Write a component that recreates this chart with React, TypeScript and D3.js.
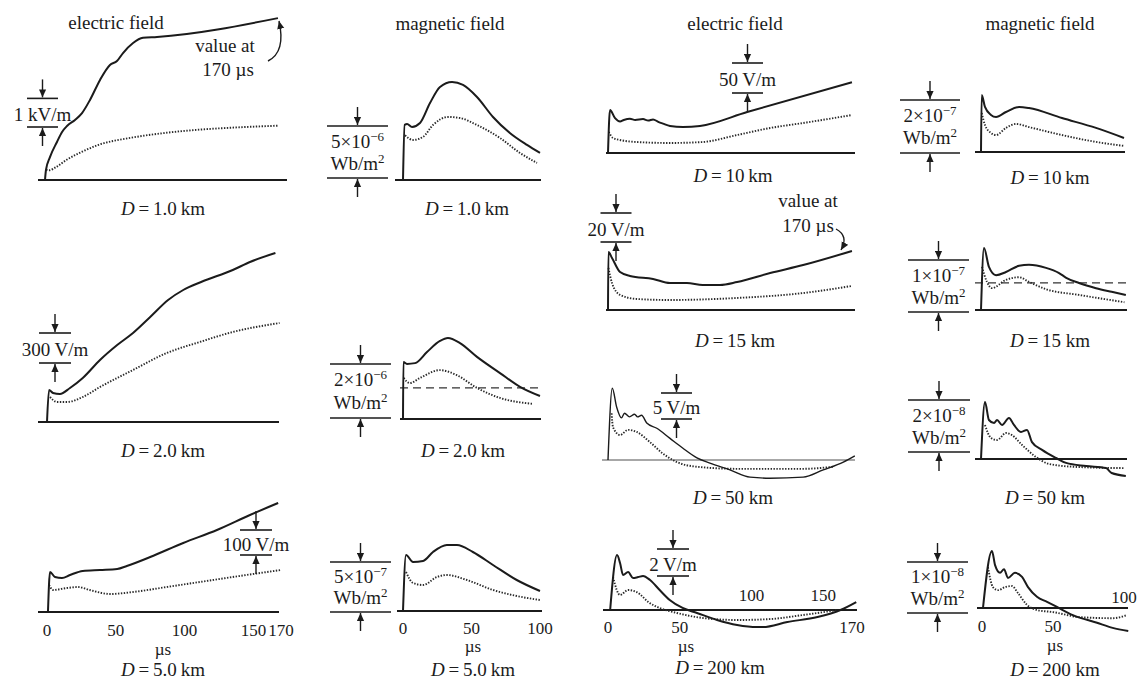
import React from 'react';
import * as d3 from 'd3';

type Pt = [number, number]; // [time in µs, field value in the panel's unit]

// Electric field, D = 1.0 km (kV/m)
const e1Solid: Pt[] = [[0, 0], [0.7, 0.35], [3.6, 0.8], [8.7, 1.33], [12.4, 1.68], [16, 1.89], [21.8, 2.1], [26.9, 2.34], [32.7, 2.8], [40, 3.5], [47.2, 4.02], [52.3, 4.16], [56.7, 4.44], [64, 4.79], [71.2, 4.97], [81.4, 5.0], [169.3, 5.66]];
const e1Dotted: Pt[] = [[0.8, 0.36], [3, 0.34], [8, 0.45], [15.5, 0.7], [27, 0.99], [39, 1.23], [63, 1.48], [88, 1.65], [112, 1.76], [136, 1.83], [170, 1.9]];
// Electric field, D = 2.0 km (V/m)
const e2Solid: Pt[] = [[0, 0], [1.5, 320], [4.4, 290], [9.4, 280], [16.7, 340], [26, 440], [38.5, 620], [51, 770], [62.5, 890], [75, 1050], [88, 1220], [99, 1320], [112, 1400], [135, 1520], [147.5, 1600], [166, 1690]];
const e2Dotted: Pt[] = [[2.2, 250], [7.3, 200], [14.5, 200], [26, 250], [38.5, 350], [62.5, 520], [87, 690], [111, 800], [135, 900], [169, 990]];
// Electric field, D = 5.0 km (V/m)
const e5Solid: Pt[] = [[0.7, 0], [2.2, 160], [5.8, 140], [10.9, 136], [16.7, 148], [26, 164], [38.5, 168], [51, 172], [58, 184], [75, 220], [99, 276], [123.5, 328], [147.5, 388], [168, 436]];
const e5Dotted: Pt[] = [[1.5, 108], [4.4, 88], [14.5, 96], [22.5, 100], [31, 88], [46, 72], [62.5, 80], [87, 100], [111, 120], [135, 140], [170, 168]];

// Magnetic field, D = 1.0 km (1e-6 Wb/m²)
const b1Solid: Pt[] = [[0, 0], [1.2, 5.3], [3, 5.38], [6.6, 5.1], [12.4, 5.48], [19.7, 7.4], [27, 8.95], [35.8, 9.43], [43.8, 9.14], [54, 7.98], [65.7, 6.06], [78, 4.52], [90.5, 3.37], [100, 2.6]];
const b1Dotted: Pt[] = [[1.5, 4.3], [7.3, 3.85], [14.6, 4.14], [21.9, 5.29], [32.8, 6.06], [41.6, 5.96], [54, 5.29], [70.8, 4.04], [85.4, 2.6], [97.8, 1.64]];
// Magnetic field, D = 2.0 km (1e-6 Wb/m²)
const b2Solid: Pt[] = [[0, 0], [0.3, 2.11], [2.9, 2.04], [8.8, 2.07], [17.5, 2.48], [27, 2.89], [32.8, 3.0], [41.6, 2.81], [54, 2.3], [70.8, 1.7], [85.4, 1.19], [100, 0.85]];
const b2Dotted: Pt[] = [[0.5, 1.52], [5, 1.33], [12.4, 1.52], [27, 1.81], [39, 1.63], [54, 1.15], [70.8, 0.78], [95, 0.56]];
const b2Dashed = 1.15;
// Magnetic field, D = 5.0 km (1e-7 Wb/m²)
const b5Solid: Pt[] = [[0, 0], [2.2, 5.6], [7.3, 4.9], [14.6, 5.0], [21.9, 5.9], [32, 6.6], [39.4, 6.6], [51, 5.9], [65.7, 4.6], [83, 3.1], [100, 2.0]];
const b5Dotted: Pt[] = [[2.2, 3.9], [7.3, 2.8], [14.6, 2.6], [24.8, 3.4], [32, 3.6], [46.7, 3.1], [65.7, 2.1], [83, 1.5], [100, 1.1]];

// Electric field, D = 10 km (V/m)
const e10Solid: Pt[] = [[0, 0], [1.4, 71.7], [4.9, 58], [8.4, 52.5], [11, 55], [15.3, 57], [19, 55], [24.4, 56.5], [28, 54], [31.4, 56], [35, 52], [38.3, 49], [43.2, 45], [52.3, 43.3], [64.1, 45], [97, 68.3], [170, 118]];
const e10Dotted: Pt[] = [[0.5, 35], [3.5, 25], [8.4, 21.7], [20, 18.3], [43, 16.7], [66, 18.3], [90, 30], [113, 41.7], [136, 50], [170, 63.3]];
// Electric field, D = 15 km (V/m)
const e15Solid: Pt[] = [[0, 0], [0.3, 40], [2.8, 35.9], [8.4, 26.2], [15.3, 23.5], [31.4, 21.4], [43.2, 18.6], [55, 18.6], [66, 17.3], [78, 17.3], [90, 19.3], [113, 25.5], [136, 31], [170, 40.7]];
const e15Dotted: Pt[] = [[0.3, 29], [2.8, 18.6], [8.4, 10.4], [20, 7.6], [43, 6.9], [90, 8.3], [136, 11.7], [170, 16.6]];
// Electric field, D = 50 km (V/m)
const e50Solid: Pt[] = [[0, 0], [3, 13.8], [6, 10.2], [9.4, 8.1], [11.5, 9.0], [15, 8.3], [18.5, 8.8], [20.6, 8.3], [23.4, 8.6], [27, 7.1], [34, 6.1], [43, 4.2], [52, 2.3], [62, 0.4], [71, -0.6], [85, -1.9], [99, -3.3], [113, -3.5], [136, -3.3], [150, -1.9], [164, -0.4], [172, 0.8]];
const e50Dotted: Pt[] = [[2.5, 9.0], [3.5, 6.3], [8.4, 4.8], [14, 5.8], [20, 5.4], [29, 3.5], [38, 1.3], [48, -0.4], [62, -1.3], [90, -1.7], [136, -1.7], [157, -1.3]];
// Electric field, D = 200 km (V/m)
const e200Solid: Pt[] = [[1.5, 0], [6.3, 4.07], [8.4, 3.48], [10.5, 2.59], [14, 2.81], [17.4, 2.37], [21, 2.44], [24.4, 2.52], [29.3, 2.22], [36, 1.48], [43, 0.74], [52, 0.15], [62, -0.22], [76, -0.74], [90, -1.11], [104, -1.26], [108, -1.26], [125, -0.89], [146, -0.52], [162, 0], [173, 0.59]];
const e200Dotted: Pt[] = [[3.5, 2.44], [8.4, 1.11], [14, 1.48], [20, 1.33], [29, 0.52], [36, 0.15], [48, -0.22], [66, -0.59], [90, -0.74], [113, -0.67], [136, -0.37], [160, 0]];

// Magnetic field, D = 10 km (1e-7 Wb/m²)
const b10Solid: Pt[] = [[0, 0], [0.5, 2.15], [2.8, 1.7], [7, 1.4], [10.6, 1.32], [17.6, 1.51], [26.8, 1.7], [33.8, 1.66], [57, 1.28], [81, 0.91], [100.7, 0.53]];
const b10Dotted: Pt[] = [[0.5, 1.47], [2.8, 1.02], [7, 0.72], [10.6, 0.64], [17.6, 0.91], [24.6, 1.06], [33.8, 0.94], [57, 0.64], [81, 0.38], [100.7, 0.23]];
// Magnetic field, D = 15 km (1e-8 Wb/m²)
const b15Solid: Pt[] = [[0, 0], [2.1, 11.9], [5.6, 8.3], [10.6, 6.7], [17.6, 7.3], [26.8, 8.5], [33.8, 8.7], [45.8, 8.1], [55, 7.1], [60, 6.2], [69, 5.2], [81, 4.2], [92, 3.5], [102, 2.9]];
const b15Dotted: Pt[] = [[0.7, 8.3], [4.2, 5.4], [7.7, 4.2], [17.6, 5.8], [26.8, 6.3], [33.8, 5.4], [45.8, 4.0], [69, 2.9], [101, 1.5]];
const b15Dashed = 5.2;
// Magnetic field, D = 50 km (1e-8 Wb/m²)
const b50Solid: Pt[] = [[0, 0], [2.8, 2.19], [5.6, 1.5], [9.2, 1.38], [11.3, 1.5], [14.8, 1.31], [19.7, 1.58], [23.2, 1.31], [28.2, 1.04], [32.4, 1.12], [35.9, 0.65], [43, 0.35], [52.8, 0.04], [59.9, -0.15], [74, -0.27], [88, -0.35], [92, -0.54], [102, -0.65]];
const b50Dotted: Pt[] = [[2.8, 1.31], [7, 0.81], [11.3, 0.73], [17.6, 1.0], [21.8, 0.92], [28.9, 0.54], [38.7, 0.08], [47.9, -0.19], [69, -0.31], [100.7, -0.35]];
// Magnetic field, D = 200 km (1e-8 Wb/m²)
const b200Solid: Pt[] = [[0.7, 0], [7, 1.12], [9.2, 0.84], [12.7, 0.69], [15.5, 0.76], [18.3, 0.59], [23.2, 0.69], [28.2, 0.61], [32.4, 0.41], [38.7, 0.22], [45.8, 0.12], [52.8, 0.02], [64, -0.14], [81, -0.29], [92, -0.39], [103, -0.45]];
const b200Dotted: Pt[] = [[4.2, 0.8], [7.7, 0.41], [11.3, 0.35], [16.2, 0.41], [21.1, 0.43], [25.4, 0.29], [31.7, 0.06], [38.7, -0.04], [50, -0.08], [69, -0.18], [92, -0.2], [102, -0.14]];

const ticksLong = [0, 50, 100, 150, 170];
const ticksShort = [0, 50, 100];

const FONT = '"Liberation Serif", "Times New Roman", serif';
const INK = '#1b1b1b';

type Bar = { cx: number; w: number; bottom: number; label: string; exp?: string };
type Ticks = { below: number[]; above?: number[]; yBelow: number; yAbove?: number; unit: [number, number] };
type Panel = {
  id: string; x0: number; kx: number; tEnd: number; base: number; bl: [number, number];
  unit: number; unitPx: number; solid: Pt[]; dotted: Pt[]; dashed?: number;
  bar: Bar; caption: [number, number, string]; faint?: boolean; ticks?: Ticks;
};

const panels: Panel[] = [
  { id: 'e1', x0: 45, kx: 1.376, tEnd: 170, base: 180, bl: [38, 287], unit: 1, unitPx: 28.6, solid: e1Solid, dotted: e1Dotted,
    bar: { cx: 42.5, w: 31, bottom: 127, label: '1 kV/m' }, caption: [163, 208, '1.0\u2009km'] },
  { id: 'e2', x0: 47, kx: 1.376, tEnd: 170, base: 422, bl: [38, 279], unit: 300, unitPx: 30, solid: e2Solid, dotted: e2Dotted,
    bar: { cx: 55, w: 32, bottom: 363, label: '300 V/m' }, caption: [163, 450, '2.0\u2009km'] },
  { id: 'e5', x0: 47, kx: 1.376, tEnd: 170, base: 612, bl: [38, 279], unit: 100, unitPx: 25, solid: e5Solid, dotted: e5Dotted,
    bar: { cx: 256, w: 32, bottom: 555, label: '100 V/m' }, caption: [163, 669, '5.0\u2009km'],
    ticks: { below: ticksLong, yBelow: 630, unit: [163, 649] } },
  { id: 'b1', x0: 403, kx: 1.37, tEnd: 100, base: 180, bl: [395, 541], unit: 5, unitPx: 52, solid: b1Solid, dotted: b1Dotted,
    bar: { cx: 357.5, w: 61, bottom: 178, label: '5\u00d710', exp: '\u22126' }, caption: [467, 208, '1.0\u2009km'] },
  { id: 'b2', x0: 403, kx: 1.37, tEnd: 100, base: 419, bl: [400, 541], unit: 2, unitPx: 54, solid: b2Solid, dotted: b2Dotted, dashed: b2Dashed,
    bar: { cx: 360.5, w: 61, bottom: 418, label: '2\u00d710', exp: '\u22126' }, caption: [463, 450, '2.0\u2009km'] },
  { id: 'b5', x0: 403, kx: 1.37, tEnd: 100, base: 611, bl: [397, 542], unit: 5, unitPx: 50, solid: b5Solid, dotted: b5Dotted,
    bar: { cx: 360.5, w: 61, bottom: 612, label: '5\u00d710', exp: '\u22127' }, caption: [473, 669, '5.0\u2009km'],
    ticks: { below: ticksShort, yBelow: 628, unit: [473, 646] } },
  { id: 'e10', x0: 608, kx: 1.435, tEnd: 170, base: 153, bl: [606, 855], unit: 50, unitPx: 30, solid: e10Solid, dotted: e10Dotted,
    bar: { cx: 747.5, w: 31, bottom: 93, label: '50 V/m' }, caption: [733, 175, '10\u2009km'] },
  { id: 'e15', x0: 608, kx: 1.435, tEnd: 170, base: 310, bl: [606, 855], unit: 20, unitPx: 29, solid: e15Solid, dotted: e15Dotted,
    bar: { cx: 616, w: 31, bottom: 242, label: '20 V/m' }, caption: [735, 340, '15 km'] },
  { id: 'e50', x0: 608, kx: 1.435, tEnd: 170, base: 460, bl: [602, 855], unit: 5, unitPx: 26, solid: e50Solid, dotted: e50Dotted, faint: true,
    bar: { cx: 676.5, w: 31, bottom: 419, label: '5 V/m' }, caption: [733, 497, '50 km'] },
  { id: 'e200', x0: 608, kx: 1.435, tEnd: 170, base: 610, bl: [603, 857], unit: 2, unitPx: 27, solid: e200Solid, dotted: e200Dotted,
    bar: { cx: 673, w: 32, bottom: 576, label: '2 V/m' }, caption: [720, 667, '200 km'],
    ticks: { below: [0, 50, 170], above: [100, 150], yBelow: 627, yAbove: 595, unit: [686, 646] } },
  { id: 'b10', x0: 981, kx: 1.42, tEnd: 100, base: 152, bl: [975, 1125], unit: 2, unitPx: 53, solid: b10Solid, dotted: b10Dotted,
    bar: { cx: 930, w: 60, bottom: 153, label: '2\u00d710', exp: '\u22127' }, caption: [1050, 177, '10\u2009km'] },
  { id: 'b15', x0: 981, kx: 1.42, tEnd: 100, base: 310, bl: [975, 1127], unit: 10, unitPx: 52, solid: b15Solid, dotted: b15Dotted, dashed: b15Dashed,
    bar: { cx: 938.5, w: 61, bottom: 312, label: '1\u00d710', exp: '\u22127' }, caption: [1050, 340, '15 km'] },
  { id: 'b50', x0: 981, kx: 1.42, tEnd: 100, base: 459, bl: [975, 1127], unit: 2, unitPx: 52, solid: b50Solid, dotted: b50Dotted,
    bar: { cx: 939, w: 62, bottom: 452, label: '2\u00d710', exp: '\u22128' }, caption: [1045, 497, '50 km'] },
  { id: 'b200', x0: 982, kx: 1.42, tEnd: 100, base: 608, bl: [977, 1128], unit: 1, unitPx: 51, solid: b200Solid, dotted: b200Dotted,
    bar: { cx: 937.5, w: 61, bottom: 613, label: '1\u00d710', exp: '\u22128' }, caption: [1055, 669, '200 km'],
    ticks: { below: [0, 50], above: [100], yBelow: 626, yAbove: 597, unit: [1055, 645] } },
];

const headers: [string, number, number][] = [
  ['electric field', 116, 22], ['magnetic field', 450, 23], ['electric field', 735, 23], ['magnetic field', 1040, 23],
];

function Arrow({ x, y1, y2 }: { x: number; y1: number; y2: number }) {
  return <line x1={x} x2={x} y1={y1} y2={y2} stroke={INK} strokeWidth={1.4} markerEnd="url(#head)" />;
}

function PanelView({ p }: { p: Panel }) {
  const x = d3.scaleLinear().domain([0, p.tEnd]).range([p.x0, p.x0 + p.tEnd * p.kx]);
  const y = d3.scaleLinear().domain([0, p.unit]).range([p.base, p.base - p.unitPx]);
  const line = d3.line<Pt>().x(d => x(d[0])).y(d => y(d[1])).curve(d3.curveMonotoneX);
  const { bar } = p;
  const top = bar.bottom - (y(0) - y(p.unit));
  const h = bar.bottom - top;
  const bx0 = bar.cx - bar.w / 2, bx1 = bar.cx + bar.w / 2;
  const curveW = p.faint ? 1.4 : 2;
  return (
    <g>
      <line x1={p.bl[0]} x2={p.bl[1]} y1={p.base} y2={p.base} stroke={p.faint ? '#8a8a8a' : INK} strokeWidth={p.faint ? 1.3 : 2} />
      {p.dashed !== undefined && (
        <line x1={p.bl[0]} x2={p.bl[1]} y1={y(p.dashed)} y2={y(p.dashed)} stroke="#333" strokeWidth={1.3} strokeDasharray="8 5" />
      )}
      <path d={line(p.dotted) ?? ''} fill="none" stroke="#2a2a2a" strokeWidth={1.9} strokeDasharray="1.4 1.5" />
      <path d={line(p.solid) ?? ''} fill="none" stroke={INK} strokeWidth={curveW} strokeLinejoin="round" />
      {/* scale bar */}
      <line x1={bx0} x2={bx1} y1={top} y2={top} stroke={INK} strokeWidth={1.6} />
      <line x1={bx0} x2={bx1} y1={bar.bottom} y2={bar.bottom} stroke={INK} strokeWidth={1.6} />
      <Arrow x={bar.cx} y1={top - 19} y2={top - 1} />
      <Arrow x={bar.cx} y1={bar.bottom + 19} y2={bar.bottom + 1} />
      {bar.exp ? (
        <g>
          <text x={bar.cx} y={top + 0.29 * h} dy="0.35em" textAnchor="middle" fontSize={19}>
            {bar.label}<tspan dy={-7} fontSize={13}>{bar.exp}</tspan>
          </text>
          <text x={bar.cx} y={top + 0.71 * h} dy="0.35em" textAnchor="middle" fontSize={19}>
            Wb/m<tspan dy={-7} fontSize={13}>2</tspan>
          </text>
        </g>
      ) : (
        <text x={bar.cx} y={(top + bar.bottom) / 2 + 1.5} dy="0.35em" textAnchor="middle" fontSize={19}>{bar.label}</text>
      )}
      <text x={p.caption[0]} y={p.caption[1]} dy="0.35em" textAnchor="middle" fontSize={19}>
        <tspan fontStyle="italic">D</tspan>{'\u2009=\u2009' + p.caption[2]}
      </text>
      {p.ticks && (
        <g fontSize={17} textAnchor="middle">
          {p.ticks.below.map(t => <text key={'b' + t} x={x(t)} y={p.ticks!.yBelow} dy="0.35em">{t}</text>)}
          {(p.ticks.above ?? []).map(t => <text key={'a' + t} x={x(t)} y={p.ticks!.yAbove} dy="0.35em">{t}</text>)}
          <text x={p.ticks.unit[0]} y={p.ticks.unit[1]} dy="0.35em">µs</text>
        </g>
      )}
    </g>
  );
}

export default function App() {
  return (
    <svg width={1141} height={681} style={{ position: 'absolute', left: 0, top: 0, background: '#fff' }}
      fontFamily={FONT} fill={INK}>
      <defs>
        <marker id="head" viewBox="0 0 10 10" refX={10} refY={5} markerWidth={8} markerHeight={8}
          markerUnits="userSpaceOnUse" orient="auto">
          <path d="M0,0.5 L10,5 L0,9.5 z" fill={INK} />
        </marker>
      </defs>
      {headers.map(([t, hx, hy], i) => (
        <text key={i} x={hx} y={hy} dy="0.35em" textAnchor="middle" fontSize={19}>{t}</text>
      ))}
      {panels.map(p => <PanelView key={p.id} p={p} />)}
      {/* "value at 170 µs" notes */}
      <text x={225} y={45} dy="0.35em" textAnchor="middle" fontSize={19}>value at</text>
      <text x={228} y={69} dy="0.35em" textAnchor="middle" fontSize={19}>170 µs</text>
      <path d="M268,61 Q286,52 279,21" fill="none" stroke={INK} strokeWidth={1.4} markerEnd="url(#head)" />
      <text x={808} y={200} dy="0.35em" textAnchor="middle" fontSize={19}>value at</text>
      <text x={808} y={225} dy="0.35em" textAnchor="middle" fontSize={19}>170 µs</text>
      <path d="M836,229 Q849,236 841,250" fill="none" stroke={INK} strokeWidth={1.4} markerEnd="url(#head)" />
    </svg>
  );
}
